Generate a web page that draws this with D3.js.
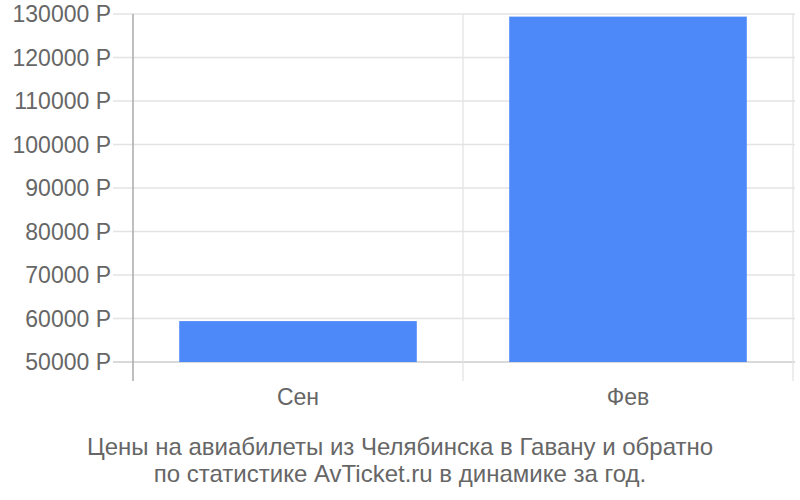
<!DOCTYPE html>
<html>
<head>
<meta charset="utf-8">
<script src="https://cdn.jsdelivr.net/npm/d3@7"></script>
<style>
  body { margin: 0; background: #fff; }
  text { font-family: "Liberation Sans", Arial, sans-serif; fill: #666; }
</style>
</head>
<body>
<div id="chart"></div>
<script>
// data
const months = ["Сен", "Фев"];
const prices = [59400, 129400];
const yTicks = [50000, 60000, 70000, 80000, 90000, 100000, 110000, 120000, 130000];
const titleLines = [
  "Цены на авиабилеты из Челябинска в Гавану и обратно",
  "по статистике AvTicket.ru в динамике за год."
];

const width = 800, height = 500;
const plotLeft = 133, plotRight = 793, plotTop = 14, plotBottom = 362;

const svg = d3.select("#chart").append("svg")
  .attr("width", width)
  .attr("height", height);

const x = d3.scaleBand().domain(months).range([plotLeft, plotRight]).padding(0);
const y = d3.scaleLinear().domain([50000, 130000]).range([plotBottom, plotTop]);

// horizontal grid + ticks
svg.append("g").selectAll("line")
  .data(yTicks)
  .join("line")
  .attr("x1", plotLeft - 20)
  .attr("x2", plotRight + 2)
  .attr("y1", d => y(d))
  .attr("y2", d => y(d))
  .attr("stroke", d => d === 50000 ? "#cccccc" : "#e3e3e3")
  .attr("stroke-width", 1.3);

// vertical band lines (right edge of each band)
svg.append("g").selectAll("line")
  .data(months)
  .join("line")
  .attr("x1", d => x(d) + x.bandwidth())
  .attr("x2", d => x(d) + x.bandwidth())
  .attr("y1", plotTop)
  .attr("y2", plotBottom + 19)
  .attr("stroke", "#e3e3e3")
  .attr("stroke-width", 1.3);

// bars
svg.append("g").selectAll("rect")
  .data(months.map((m, i) => ({ m, v: prices[i] })))
  .join("rect")
  .attr("x", d => x(d.m) + x.bandwidth() * 0.14)
  .attr("width", x.bandwidth() * 0.72)
  .attr("y", d => y(d.v))
  .attr("height", d => y(50000) - y(d.v))
  .attr("fill", "#4d89f9");

// left axis line
svg.append("line")
  .attr("x1", plotLeft).attr("x2", plotLeft)
  .attr("y1", plotTop).attr("y2", plotBottom + 19)
  .attr("stroke", "#aaaaaa")
  .attr("stroke-width", 1.5);

// y labels
svg.append("g").selectAll("text")
  .data(yTicks)
  .join("text")
  .attr("x", plotLeft - 22)
  .attr("y", d => y(d))
  .attr("dy", "0.35em")
  .attr("text-anchor", "end")
  .style("font-size", "23px")
  .text(d => d + " Р");

// x labels
svg.append("g").selectAll("text")
  .data(months)
  .join("text")
  .attr("x", d => x(d) + x.bandwidth() / 2)
  .attr("y", 405)
  .attr("text-anchor", "middle")
  .style("font-size", "23px")
  .text(d => d);

// title
svg.append("g").selectAll("text")
  .data(titleLines)
  .join("text")
  .attr("x", 400)
  .attr("y", (d, i) => 455 + i * 27)
  .attr("text-anchor", "middle")
  .style("font-size", "24px")
  .text(d => d);
</script>
</body>
</html>
